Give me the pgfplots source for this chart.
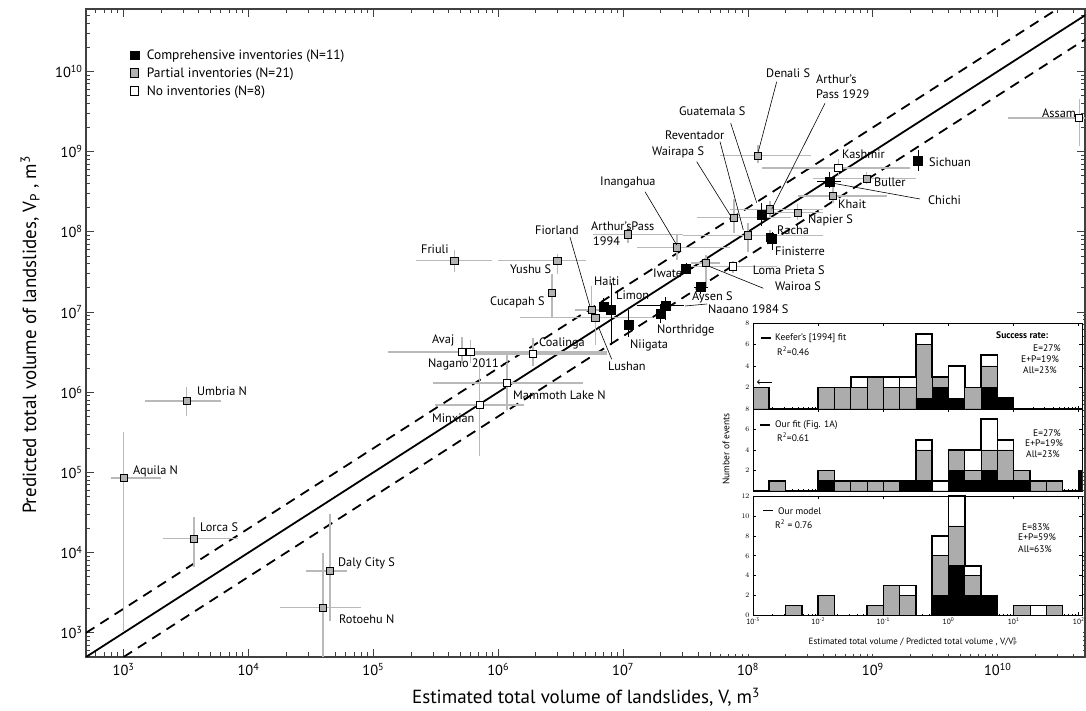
\documentclass[border=0pt]{standalone}
\usepackage{fontspec}
\setmainfont{PT Sans}
\usepackage{pgfplots}
\usepackage{pgfplotstable}
\pgfplotsset{compat=1.18}

% Comprehensive inventories: x y xlo xhi ylo yhi
\pgfplotstableread{
x y xlo xhi ylo yhi
2.3e9 7.6e8 2.3e9 2.3e9 5.7e8 1.06e9
4.5e8 4.25e8 3.55e8 5.6e8 3.55e8 5.5e8
1.29e8 1.63e8 1.29e8 1.29e8 1.17e8 2.3e8
1.56e8 8.1e7 1.56e8 1.56e8 5.9e7 1.0e8
3.2e7 3.5e7 2.9e7 3.6e7 3.0e7 4.1e7
4.2e7 2.05e7 3.7e7 4.8e7 1.7e7 2.4e7
6.95e6 1.15e7 6.95e6 6.95e6 1.0e7 1.5e7
8.0e6 1.07e7 8.0e6 8.0e6 3.9e6 2.3e7
1.1e7 7.0e6 1.1e7 1.1e7 4.9e6 1.06e7
2.0e7 9.6e6 2.0e7 2.0e7 7.3e6 1.26e7
2.2e7 1.19e7 1.29e7 3.1e7 7.9e6 1.55e7
}\tabE

% Partial inventories
\pgfplotstableread{
x y xlo xhi ylo yhi
1.0e3 8.5e4 7.9e2 2.0e3 1.06e3 3.2e5
3.65e3 1.5e4 2.07e3 8.2e3 6.6e3 2.8e4
4.5e4 5.9e3 2.9e4 6.1e4 1.4e3 3.0e4
3.95e4 2.07e3 1.8e4 8.0e4 3.0e2 9.8e3
3.2e3 7.8e5 1.48e3 6.0e3 5.0e5 1.17e6
4.45e5 4.37e7 2.2e5 8.9e5 3.2e7 5.9e7
2.98e6 4.37e7 9.9e5 5.0e6 3.0e7 5.3e7
2.7e6 1.74e7 2.7e6 2.7e6 8.5e6 2.96e7
5.6e6 1.06e7 4.1e6 7.0e6 8.0e6 2.1e7
6.0e6 8.5e6 1.5e6 1.75e7 3.9e6 1.1e7
2.7e7 6.4e7 1.3e7 7.2e7 4.5e7 9.1e7
1.1e7 9.3e7 5.7e6 3.0e7 7.2e7 1.17e8
7.7e7 1.5e8 3.9e7 2.2e8 9.6e7 2.6e8
1.5e8 1.9e8 7.2e7 4.0e8 1.5e8 2.4e8
1.0e8 9.0e7 3.0e7 4.0e8 5.6e7 1.3e8
1.5e8 8.5e7 1.5e8 1.5e8 7.0e7 1.05e8
2.5e8 1.74e8 1.3e8 4.0e8 1.4e8 2.2e8
4.6e7 4.1e7 3.5e7 6.0e7 2.0e7 5.2e7
1.2e8 8.9e8 6.0e7 3.2e8 7.3e8 1.2e9
8.9e8 4.6e8 3.3e8 2.2e9 4.0e8 5.5e8
4.8e8 2.8e8 2.5e8 1.3e9 2.3e8 3.9e8
}\tabP

% No inventories
\pgfplotstableread{
x y xlo xhi ylo yhi
5.1e5 3.2e6 1.3e5 2.0e6 2.3e6 4.9e6
6.0e5 3.2e6 2.0e5 7.4e6 2.3e6 4.5e6
1.9e6 3.0e6 6.0e5 7.4e6 2.1e6 4.7e6
1.18e6 1.3e6 3.0e5 4.8e6 6.0e5 2.9e6
7.1e5 6.9e5 3.1e5 1.6e6 1.6e5 2.4e6
7.6e7 3.7e7 3.5e7 1.7e8 3.1e7 4.3e7
5.3e8 6.3e8 1.3e8 2.0e9 5.0e8 8.0e8
4.5e10 2.64e9 1.2e10 8.0e10 1.17e9 4.5e9
}\tabN

% Histograms: L = bin left edge (log10 of V/Vp), counts E, P, N
\pgfplotstableread{
L E P N
-3.00 0 2 0
-2.75 0 0 0
-2.50 0 0 0
-2.25 0 0 0
-2.00 0 2 0
-1.75 0 2 0
-1.50 0 2 1
-1.25 0 3 0
-1.00 0 2 1
-0.75 0 2 1
-0.50 1 5 1
-0.25 2 1 0
0.00 1 0 3
0.25 0 2 0
0.50 2 2 1
0.75 1 0 0
1.00 0 0 0
1.25 0 0 0
1.50 0 0 0
1.75 0 0 0
2.00 0 0 0
2.25 0 0 0
}\histA

\pgfplotstableread{
L E P N
-3.00 0 0 0
-2.75 0 1 0
-2.50 0 0 0
-2.25 0 0 0
-2.00 1 1 0
-1.75 0 1 0
-1.50 0 1 0
-1.25 0 1 0
-1.00 0 1 0
-0.75 1 0 0
-0.50 1 3 1
-0.25 0 0 1
0.00 2 2 0
0.25 1 1 2
0.50 2 2 3
0.75 1 3 1
1.00 1 1 0
1.25 0 1 0
1.50 0 1 0
1.75 0 0 0
2.00 2 0 0
2.25 0 0 0
}\histB

\pgfplotstableread{
L E P N
-3.00 0 0 0
-2.75 0 0 0
-2.50 0 1 0
-2.25 0 0 0
-2.00 0 2 0
-1.75 0 0 0
-1.50 0 0 0
-1.25 0 1 0
-1.00 0 3 0
-0.75 0 2 1
-0.50 0 0 0
-0.25 2 4 2
0.00 5 4 3
0.25 2 2 1
0.50 2 0 0
0.75 0 0 0
1.00 0 1 0
1.25 0 0 1
1.50 0 1 0
1.75 0 0 0
2.00 0 0 0
2.25 0 0 0
}\histC

\newcommand{\lab}{\fontsize{12.3}{14}\selectfont}
\newcommand{\ins}{\fontsize{9.5}{11}\selectfont}

\pgfplotsset{
  errbars/.style={error bars/.cd, x dir=both, x explicit, y dir=both, y explicit, error mark=none},
  table/etab/.style={x=x, y=y,
    x error plus expr=\thisrow{xhi}-\thisrow{x},
    x error minus expr=\thisrow{x}-\thisrow{xlo},
    y error plus expr=\thisrow{yhi}-\thisrow{y},
    y error minus expr=\thisrow{y}-\thisrow{ylo}},
  inset/.style={scale only axis, width=329pt, xmin=-3, xmax=2.05, ymin=0,
    xtick={-3,-2,-1,0,1,2}, xticklabels={},
    minor xtick={-2.699,-2.523,-2.398,-2.301,-2.222,-2.155,-2.097,-2.046,
      -1.699,-1.523,-1.398,-1.301,-1.222,-1.155,-1.097,-1.046,
      -0.699,-0.523,-0.398,-0.301,-0.222,-0.155,-0.097,-0.046,
      0.301,0.477,0.602,0.699,0.778,0.845,0.903,0.954,
      1.301,1.477,1.602,1.699,1.778,1.845,1.903,1.954},
    tick align=inside, xtick pos=both, ytick pos=both,
    major tick length=3pt, minor tick length=1.5pt,
    tick style={black, line width=0.6pt},
    axis line style={black, line width=0.9pt},
    tick label style={font=\fontsize{7.5}{8.5}\selectfont},
    xticklabel style={yshift=1.5pt},
    axis background/.style={fill=white}},
  hw/.style={ybar, bar width=0.25, bar shift=0pt, draw=black, line width=0.6pt, fill=white},
  hg/.style={ybar, bar width=0.25, bar shift=0pt, draw=black, line width=0.6pt, fill=gray!65},
  hk/.style={ybar, bar width=0.25, bar shift=0pt, draw=black, line width=0.6pt, fill=black},
  ho/.style={const plot mark left, black, line width=1.6pt},
}

\begin{document}
\begin{tikzpicture}[x=1pt,y=1pt]
\begin{axis}[
  at={(86pt,54pt)}, anchor=south west,
  scale only axis, width=999pt, height=648pt,
  xmode=log, ymode=log,
  xmin=500, xmax=5e10, ymin=500, ymax=6e10,
  xtick={1e3,1e4,1e5,1e6,1e7,1e8,1e9,1e10},
  ytick={1e3,1e4,1e5,1e6,1e7,1e8,1e9,1e10},
  minor xtick={600,700,800,900,2e3,3e3,4e3,5e3,6e3,7e3,8e3,9e3,
    2e4,3e4,4e4,5e4,6e4,7e4,8e4,9e4,2e5,3e5,4e5,5e5,6e5,7e5,8e5,9e5,
    2e6,3e6,4e6,5e6,6e6,7e6,8e6,9e6,2e7,3e7,4e7,5e7,6e7,7e7,8e7,9e7,
    2e8,3e8,4e8,5e8,6e8,7e8,8e8,9e8,2e9,3e9,4e9,5e9,6e9,7e9,8e9,9e9,
    2e10,3e10,4e10},
  minor ytick={600,700,800,900,2e3,3e3,4e3,5e3,6e3,7e3,8e3,9e3,
    2e4,3e4,4e4,5e4,6e4,7e4,8e4,9e4,2e5,3e5,4e5,5e5,6e5,7e5,8e5,9e5,
    2e6,3e6,4e6,5e6,6e6,7e6,8e6,9e6,2e7,3e7,4e7,5e7,6e7,7e7,8e7,9e7,
    2e8,3e8,4e8,5e8,6e8,7e8,8e8,9e8,2e9,3e9,4e9,5e9,6e9,7e9,8e9,9e9,
    2e10,3e10,4e10,5e10},
  xticklabels={10\textsuperscript{3},10\textsuperscript{4},10\textsuperscript{5},10\textsuperscript{6},10\textsuperscript{7},10\textsuperscript{8},10\textsuperscript{9},10\textsuperscript{10}},
  yticklabels={10\textsuperscript{3},10\textsuperscript{4},10\textsuperscript{5},10\textsuperscript{6},10\textsuperscript{7},10\textsuperscript{8},10\textsuperscript{9},10\textsuperscript{10}},
  tick label style={font=\fontsize{14.5}{16}\selectfont},
  xticklabel style={yshift=-3pt},
  tick align=inside,
  major tick length=8pt, minor tick length=4.5pt,
  tick style={black!75, line width=0.8pt},
  axis line style={black!75, line width=1.3pt},
  legend style={at={(axis description cs:0.041,0.944)}, anchor=north west,
    draw=none, fill=none, font=\fontsize{13.5}{16}\selectfont,
    nodes={font=\fontsize{13.5}{16}\selectfont}, row sep=3pt,
    /tikz/every odd column/.append style={column sep=6pt}},
  legend cell align=left,
]
\addlegendimage{only marks, mark=square*, mark size=4.3pt, mark options={fill=black, draw=black}}
\addlegendentry{Comprehensive inventories (N=11)}
\addlegendimage{only marks, mark=square*, mark size=4.3pt, mark options={fill=gray!60, draw=black, line width=1pt}}
\addlegendentry{Partial inventories (N=21)}
\addlegendimage{only marks, mark=square*, mark size=4.3pt, mark options={fill=white, draw=black, line width=1pt}}
\addlegendentry{No inventories (N=8)}

% reference lines
\addplot[black, line width=1.8pt, forget plot] coordinates {(500,500) (6e10,6e10)};
\addplot[black, line width=1.8pt, dash pattern=on 10pt off 7pt, forget plot] coordinates {(500,1000) (3e10,6e10)};
\addplot[black, line width=1.8pt, dash pattern=on 10pt off 7pt, forget plot] coordinates {(1000,500) (1e11,5e10)};

% data
\addplot[only marks, mark=square*, mark size=3.6pt, forget plot,
  mark options={fill=gray!60, draw=black, line width=0.8pt},
  errbars, error bar style={gray!55, line width=1.6pt}]
  table[etab] {\tabP};
\addplot[only marks, mark=square*, mark size=3.6pt, forget plot,
  mark options={fill=white, draw=black, line width=0.9pt},
  errbars, error bar style={gray!55, line width=1.6pt}]
  table[etab] {\tabN};
\addplot[only marks, mark=square*, mark size=4.5pt, forget plot,
  mark options={fill=black, draw=black},
  errbars, error bar style={black, line width=1pt}]
  table[etab] {\tabE};
\end{axis}

% point labels
\begin{scope}[every node/.style={anchor=west, inner sep=0pt, font=\lab}]
\node at (133,240) {Aquila N};
\node at (200,183.3) {Lorca S};
\node at (338,148) {Daly City S};
\node at (339,92) {Rotoehu N};
\node at (197,319.3) {Umbria N};
\node at (421,462) {Friuli};
\node at (510,441.7) {Yushu S};
\node at (490,408.3) {Cucapah S};
\node at (432,371) {Avaj};
\node at (428,346.7) {Nagano 2011};
\node at (539,367.7) {Coalinga};
\node at (513,316) {Mammoth Lake N};
\node at (432,293) {Minxian};
\node at (594,429.3) {Haiti};
\node at (616,415.3) {Limon};
\node at (535,480.3) {Fiorland};
\node at (608,344.3) {Lushan};
\node at (630,365.3) {Niigata};
\node at (657,381) {Northridge};
\node at (708,401) {Nagano 1984 S};
\node at (692,414) {Aysen S};
\node at (653,437.7) {Iwate};
\node at (775,424.3) {Wairoa S};
\node at (752.7,440.3) {Loma Prieta S};
\node at (775,460) {Finisterre};
\node at (777,481) {Racha};
\node at (808,491) {Napier S};
\node at (838,507) {Khait};
\node at (874,528.5) {Buller};
\node at (928,510.3) {Chichi};
\node at (929,548.7) {Sichuan};
\node at (842,556.7) {Kashmir};
\node at (1042,597.7) {Assam};
\node at (766,637.7) {Denali S};
\node at (816,631.7) {Arthur's};
\node at (816,616.7) {Pass 1929};
\node at (679,599.3) {Guatemala S};
\node at (665,576) {Reventador};
\node at (652,558.7) {Wairapa S};
\node at (600,528.3) {Inangahua};
\node at (591,485) {Arthur'sPass};
\node at (593,469.3) {1994};
\end{scope}
\begin{scope}[black, line width=0.6pt]
\draw (570,473.7) -- (590,404.3);
\draw (611.7,351.7) -- (598.3,384.3);
\draw (685,405) -- (707,407);
\draw (710,444.3) -- (763.3,422.7);
\draw (833.3,527.7) -- (920,512);
\draw (776.7,629.3) -- (758.3,559.3);
\draw (825,607.7) -- (771.7,501.7);
\draw (730.7,587.7) -- (756.7,508.3);
\draw (720,569.3) -- (743.3,481);
\draw (696.7,549.3) -- (730.7,495);
\draw (645,519.3) -- (676.7,466);
\draw (503,347) -- (510,350);
\end{scope}

% axis titles
\node[font=\fontsize{19}{22}\selectfont] at (586,14) {Estimated total volume of landslides, V, m\textsuperscript{3}};
\node[rotate=90, font=\fontsize{19}{22}\selectfont] at (30,376) {Predicted total volume of landslides, V\textsubscript{P} , m\textsuperscript{3}};

% inset
\fill[white] (716,57) rectangle (1083,398);

\begin{axis}[inset, at={(753pt,302pt)}, anchor=south west, height=86pt, ymax=8, ytick={2,4,6,8}]
\addplot[hw] table[x expr=\thisrow{L}+0.125, y expr=\thisrow{E}+\thisrow{P}+\thisrow{N}] {\histA};
\addplot[hg] table[x expr=\thisrow{L}+0.125, y expr=\thisrow{E}+\thisrow{P}] {\histA};
\addplot[hk] table[x expr=\thisrow{L}+0.125, y=E] {\histA};
\addplot[ho] table[x=L, y expr=\thisrow{E}+\thisrow{P}+\thisrow{N}] {\histA};
\end{axis}

\begin{axis}[inset, at={(753pt,220pt)}, anchor=south west, height=82pt, ymax=8, ytick={2,4,6,8}]
\addplot[hw] table[x expr=\thisrow{L}+0.125, y expr=\thisrow{E}+\thisrow{P}+\thisrow{N}] {\histB};
\addplot[hg] table[x expr=\thisrow{L}+0.125, y expr=\thisrow{E}+\thisrow{P}] {\histB};
\addplot[hk] table[x expr=\thisrow{L}+0.125, y=E] {\histB};
\addplot[ho] table[x=L, y expr=\thisrow{E}+\thisrow{P}+\thisrow{N}] {\histB};
\end{axis}

\begin{axis}[inset, at={(753pt,95.5pt)}, anchor=south west, height=119.5pt, ymax=12, ytick={0,2,4,6,8,10,12},
  xticklabels={10\textsuperscript{-3},10\textsuperscript{-2},10\textsuperscript{-1},10\textsuperscript{0},10\textsuperscript{1},10\textsuperscript{2}}]
\addplot[hw] table[x expr=\thisrow{L}+0.125, y expr=\thisrow{E}+\thisrow{P}+\thisrow{N}] {\histC};
\addplot[hg] table[x expr=\thisrow{L}+0.125, y expr=\thisrow{E}+\thisrow{P}] {\histC};
\addplot[hk] table[x expr=\thisrow{L}+0.125, y=E] {\histC};
\addplot[ho] table[x=L, y expr=\thisrow{E}+\thisrow{P}+\thisrow{N}] {\histC};
\end{axis}

% inset texts
\begin{scope}[every node/.style={anchor=west, inner sep=0pt, font=\ins}]
\draw[line width=1.5pt] (761,373) -- (771,373);
\node at (775,373) {Keefer's [1994] fit};
\node at (777,360) {R\textsuperscript{2}=0.46};
\node[font=\ins\bfseries] at (996,376) {Success rate:};
\node at (1033,363) {E=27\%};
\node at (1021,352) {E+P=19\%};
\node at (1023,341) {All=23\%};
\draw[->, line width=0.9pt] (772,329) -- (757,329);
\draw[line width=1.5pt] (760,286) -- (770,286);
\node at (775,286) {Our fit (Fig. 1A)};
\node at (777,273.7) {R\textsuperscript{2}=0.61};
\node at (1033,278) {E=27\%};
\node at (1025,268) {E+P=19\%};
\node at (1026,257) {All=23\%};
\draw[line width=1.5pt] (763,200.3) -- (773,200.3);
\node at (778,200.3) {Our model};
\node at (775,187) {R\textsuperscript{2} = 0.76};
\node at (1022,184) {E=83\%};
\node at (1018,174) {E+P=59\%};
\node at (1018,162) {All=63\%};
\end{scope}
\node[font=\fontsize{9}{10.5}\selectfont, inner sep=1pt] at (913,69) {Estimated total volume / Predicted total volume , V/V\rlap{\textsuperscript{s}}\textsubscript{P}};
\node[rotate=90, font=\ins] at (726,262) {Number of events};

\pgfresetboundingbox
\useasboundingbox (0,0) rectangle (1086,711);
\end{tikzpicture}
\end{document}
